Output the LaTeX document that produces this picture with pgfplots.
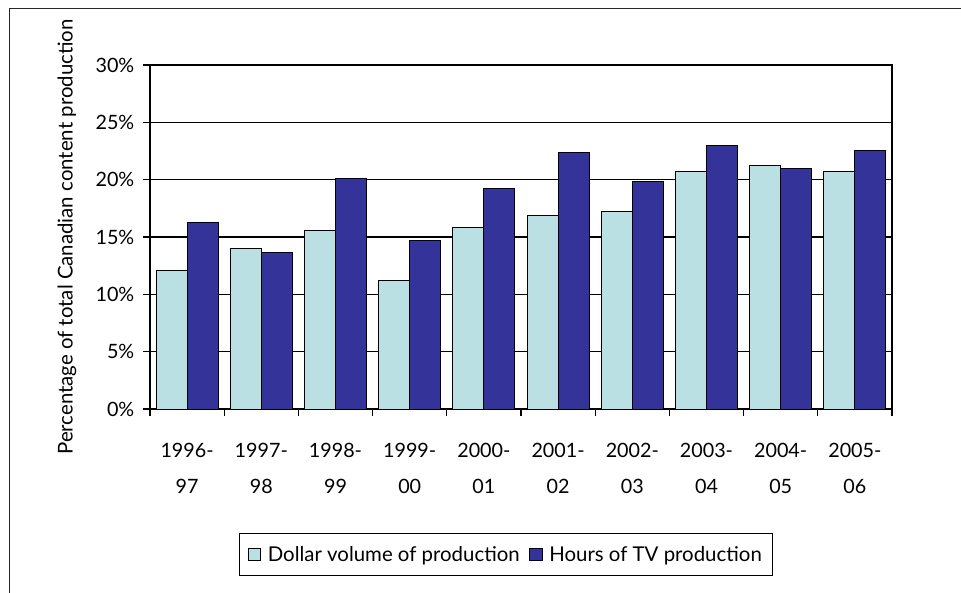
\documentclass[border=0pt]{standalone}
\usepackage{pgfplots}
\pgfplotsset{compat=1.18}
\usepackage{fontspec}
\setmainfont{Lato}
\definecolor{lightc}{HTML}{BAE0E3}
\definecolor{darkc}{HTML}{333399}
\begin{document}
\begin{tikzpicture}
\useasboundingbox (0pt,0pt) rectangle (720.75pt,444.75pt);
\draw[black!85, line width=1.3pt] (7.125pt,0pt) -- (7.125pt,438.4pt) -- (720.75pt,438.4pt);
\begin{axis}[
  at={(112.5pt,138pt)}, anchor=south west,
  width=556.5pt, height=258pt, scale only axis,
  xmin=-0.5, xmax=9.5, ymin=0, ymax=30,
  ybar=0pt, bar width=23.25pt,
  ytick={0,5,...,30},
  yticklabel={\pgfmathprintnumber{\tick}\%},
  /pgf/number format/assume math mode=true,
  ymajorgrids, grid style={black, line width=0.9pt},
  axis line style={black, line width=0.9pt},
  tick align=outside, tick pos=left,
  major tick length=5.25pt, minor tick length=5.25pt,
  tick style={black, line width=0.9pt},
  xtick={0,...,9},
  xticklabels={{1996-\\97},{1997-\\98},{1998-\\99},{1999-\\00},{2000-\\01},{2001-\\02},{2002-\\03},{2003-\\04},{2004-\\05},{2005-\\06}},
  major x tick style={draw=none},
  minor xtick={-0.5,0.5,...,9.5},
  ticklabel style={font=\fontsize{14.8}{27}\selectfont},
  xticklabel style={align=center, anchor=north, yshift=-17pt},
  yticklabel style={xshift=-3pt},
  ylabel={Percentage of total Canadian content production},
  ylabel style={at={(axis description cs:-0.1119,0.5)}, anchor=center, font=\fontsize{15.3}{18}\selectfont},
  legend style={at={(0.4798,-0.423)}, anchor=center, legend columns=2, draw=black, line width=0.8pt,
    font=\fontsize{15.3}{18}\selectfont, inner xsep=5.8pt, inner ysep=7.5pt,
    /tikz/every odd column/.append style={column sep=3pt},
    /tikz/every even column/.append style={column sep=5pt}},
  legend image code/.code={\draw[#1, line width=0.7pt] (0pt,-4.7pt) rectangle (9.5pt,4.7pt);},
]
\addplot[fill=lightc, draw=black, line width=0.7pt] coordinates {
(0,12.06) (1,14.04) (2,15.55) (3,11.22) (4,15.81) (5,16.86) (6,17.2) (7,20.75) (8,21.22) (9,20.75)};
\addplot[fill=darkc, draw=black, line width=0.7pt] coordinates {
(0,16.28) (1,13.69) (2,20.08) (3,14.73) (4,19.24) (5,22.41) (6,19.82) (7,22.99) (8,20.98) (9,22.55)};
\legend{Dollar volume of production, Hours of TV production}
\end{axis}
\end{tikzpicture}
\end{document}
